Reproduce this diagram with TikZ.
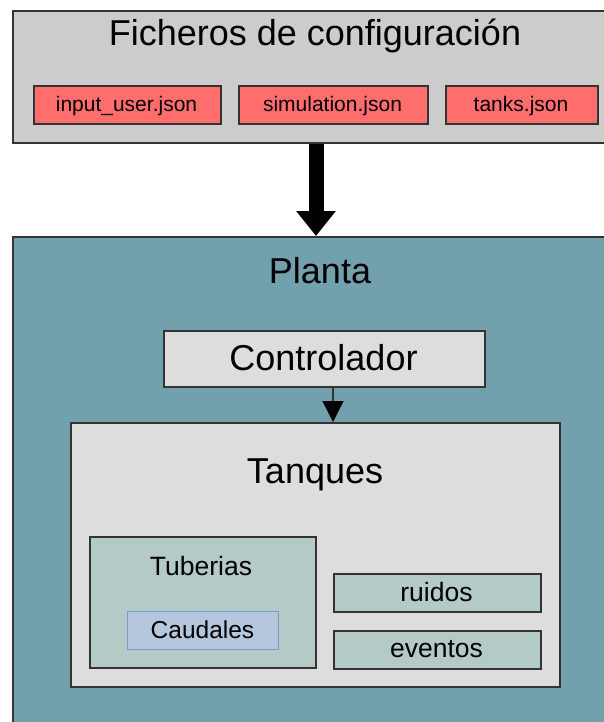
\documentclass[tikz,border=0pt]{standalone}
\usepackage{fontspec}
\setmainfont{Liberation Sans}
\usetikzlibrary{arrows.meta}

\definecolor{cfggray}{HTML}{CCCCCC}
\definecolor{filered}{HTML}{FF6D6D}
\definecolor{plantteal}{HTML}{72A1AD}
\definecolor{lightgray}{HTML}{DDDDDD}
\definecolor{subteal}{HTML}{B3CAC7}
\definecolor{flowblue}{HTML}{B4C7DC}
\definecolor{flowedge}{HTML}{729FCF}
\definecolor{edge}{HTML}{333333}

\newcommand{\bigtxt}{\fontsize{36}{40}\selectfont}
\newcommand{\midtxt}{\fontsize{26.5}{30}\selectfont}
\newcommand{\smalltxt}{\fontsize{21}{24}\selectfont}

\tikzset{
  box/.style={draw=edge, line width=1.7pt, inner sep=0pt, anchor=north west},
  label/.style={anchor=base, inner sep=0pt},
}

\begin{document}
\begin{tikzpicture}[x=1pt, y=-1pt]
  \useasboundingbox (0,0) rectangle (604,722);
  \clip (0,0) rectangle (604,722);

  % configuration files
  \node[box, fill=cfggray, minimum width=610pt, minimum height=132pt] (cfg) at (12,10) {};
  \node[label] (cfgtitle) at (315,46) {\bigtxt Ficheros de configuración};
  \node[box, fill=filered, minimum width=187pt, minimum height=38pt] (fuser) at (33,85) {};
  \node[label] (fusert) at (126.5,112) {\smalltxt input\_user.json};
  \node[box, fill=filered, minimum width=189pt, minimum height=38pt] (fsim) at (238,85) {};
  \node[label] (fsimt) at (332.5,112) {\smalltxt simulation.json};
  \node[box, fill=filered, minimum width=152pt, minimum height=38pt] (ftank) at (445,85) {};
  \node[label] (ftankt) at (521,112) {\smalltxt tanks.json};

  % plant
  \node[box, fill=plantteal, minimum width=610pt, minimum height=510pt] (planta) at (12,236) {};
  \node[label] (plantat) at (320,283) {\bigtxt Planta};

  \node[box, fill=lightgray, minimum width=321pt, minimum height=56pt] (ctrl) at (163,330) {};
  \node[label] (ctrlt) at (323.5,370) {\bigtxt Controlador};

  \node[box, fill=lightgray, minimum width=489pt, minimum height=264pt] (tanq) at (70,422) {};
  \node[label] (tanqt) at (315,483) {\bigtxt Tanques};

  \node[box, fill=subteal, minimum width=226pt, minimum height=131pt] (tub) at (89,536) {};
  \node[label] (tubt) at (201,575) {\midtxt Tuberias};
  \node[box, draw=flowedge, line width=1.2pt, fill=flowblue, minimum width=151pt, minimum height=38pt] (caud) at (127,611) {};
  \node[label] (caudt) at (202.5,638) {\fontsize{24.5}{28}\selectfont Caudales};

  \node[box, fill=subteal, minimum width=207pt, minimum height=38pt] (ruid) at (333,573) {};
  \node[label] (ruidt) at (436.5,601) {\midtxt ruidos};
  \node[box, fill=subteal, minimum width=207pt, minimum height=38pt] (event) at (333,630) {};
  \node[label] (eventt) at (436.5,657) {\midtxt eventos};

  % connectors
  \draw[line width=15pt, -{Triangle[width=38pt, length=25pt]}]
    (cfg.south -| 316,0) -- (planta.north -| 316,0);
  \draw[draw=edge, line width=1.4pt, -{Triangle[width=21pt, length=21pt, fill=black, color=black]}]
    (ctrl.south -| 333,0) -- (tanq.north -| 333,0);
\end{tikzpicture}
\end{document}
